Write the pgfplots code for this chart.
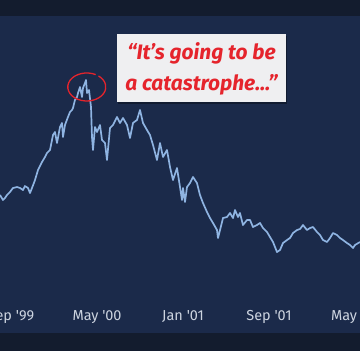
\documentclass[border=0pt]{standalone}
\usepackage{pgfplots}
\usepackage{pgfplotstable}
\pgfplotsset{compat=1.18}
\usepackage{fontspec}
\setmainfont{Fira Sans}
\newfontfamily\tickfont{Fira Sans}
\newfontfamily\annfont{Fira Sans}
\definecolor{panel}{HTML}{1B2A4A}
\definecolor{band}{HTML}{131C2E}
\definecolor{lineblue}{HTML}{8FB4E2}
\definecolor{tickc}{HTML}{CDD4E0}
\definecolor{annred}{HTML}{E5242C}
\definecolor{paper}{HTML}{EFEFF1}

\pgfplotstableread{
month value
-1.023 2597
-0.744 2490
-0.558 2533
-0.372 2597
-0.093 2661
0.186 2746
0.558 2767
0.837 2746
1.116 2703
1.302 2788
1.581 2746
1.767 2639
1.953 2746
2.233 2916
2.512 3130
2.884 3300
3.163 3407
3.349 3492
3.628 3556
3.907 3876
4.093 3940
4.279 3705
4.558 4046
4.744 4132
4.837 3833
5.023 4089
5.302 4260
5.488 4366
5.674 4409
5.767 4451
5.953 4622
6.140 4686
6.233 4771
6.419 4899
6.605 4686
6.698 4878
6.884 4984
6.977 5048
7.070 4771
7.256 4835
7.442 4473
7.535 3833
7.628 3556
7.814 4046
8.000 3940
8.279 4089
8.465 3769
8.744 3705
8.930 3343
9.209 4025
9.488 4089
9.860 4260
10.140 4132
10.419 4238
10.791 4089
11.070 3812
11.349 4132
11.721 4196
12.000 4409
12.279 4132
12.651 3982
12.930 3876
13.209 3663
13.581 3343
13.860 3705
14.140 3407
14.512 3556
14.791 3194
15.070 2916
15.442 3172
15.721 2767
15.907 2490
16.000 2746
16.186 2447
16.372 2767
16.651 2852
16.930 2980
17.302 2852
17.581 2597
17.860 2426
18.233 2234
18.512 2106
18.791 2000
19.163 1850
19.256 1680
19.442 1850
19.721 2106
20.093 2128
20.372 2213
20.651 2106
20.837 2277
21.116 2128
21.302 2213
21.581 1957
21.953 2064
22.233 2064
22.512 1914
22.884 1957
23.163 2000
23.442 1893
23.814 1808
24.093 1701
24.372 1595
24.744 1381
25.023 1424
25.302 1573
25.674 1637
25.953 1680
26.233 1786
26.605 1850
26.884 1872
27.163 1957
27.535 1850
27.814 1893
28.093 1914
28.465 1808
28.744 1744
29.023 1637
29.395 1595
29.674 1680
29.953 1786
30.326 1744
30.605 1680
30.884 1637
31.256 1573
31.535 1531
31.814 1467
32.000 1531
32.465 1595
}\nasdaq

\begin{document}
\begin{tikzpicture}
\useasboundingbox (0,-18bp) rectangle (360bp,333bp);
\clip (0,-18bp) rectangle (360bp,333bp);
\fill[band] (0,-18bp) rectangle (360bp,0);
\fill[panel] (0,0) rectangle (360bp,317bp);
\fill[band] (0,317bp) rectangle (360bp,333bp);
\begin{axis}[
  at={(0,0)}, anchor=south west,
  scale only axis, width=360bp, height=317bp,
  xmin=-1.023, xmax=32.465, ymin=-345, ymax=6413,
  axis line style={draw=none}, tick style={draw=none},
  ytick=\empty,
  xtick={0,8,16,24,32},
  xticklabels={Sep '99, May '00, Jan '01, Sep '01, May '02},
  xticklabel style={anchor=center, yshift=16bp, font=\tickfont\fontsize{14.5}{14.5}\selectfont, text=tickc},
  clip=true,
]
\addplot[lineblue, line width=1.7bp, line join=round] table[x=month, y=value] {\nasdaq};
\coordinate (peak) at (axis cs:7.07,4899);
\coordinate (boxc) at (axis cs:17.72,5304);
\end{axis}
\fill[black, opacity=0.35] ([xshift=1.5bp,yshift=-1.8bp]boxc) ++(-84.5bp,-34bp) rectangle ++(169bp,68bp);
\node[fill=paper, minimum width=169bp, minimum height=68bp, inner sep=0pt] at (boxc) {};
\node[annred, align=center, inner sep=0pt, font=\annfont\itshape\bfseries\fontsize{21}{31}\selectfont] at ([yshift=-1bp]boxc) {“It’s going to be\\a catastrophe...”};
\draw[annred, line width=1.3bp] (peak) ++(8.7bp,12.4bp) arc[start angle=62, end angle=412, x radius=19bp, y radius=14bp];
\end{tikzpicture}
\end{document}
